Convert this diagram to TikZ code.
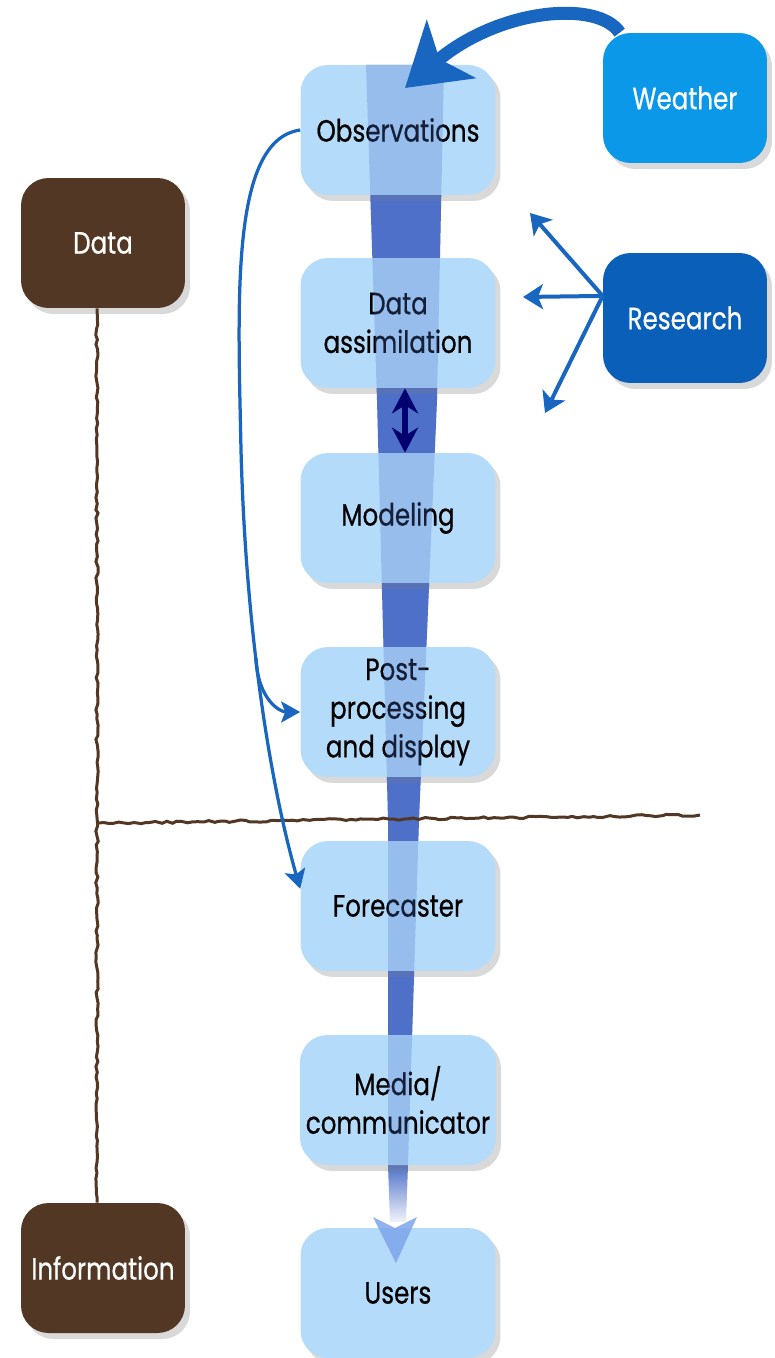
\documentclass[tikz,border=0pt]{standalone}
\usepackage{fontspec}
\setmainfont{Poppins}[FakeStretch=0.8, FakeBold=0.6]
\usetikzlibrary{arrows.meta,shadows,decorations.pathmorphing}

\definecolor{boxblue}{RGB}{180,220,250}
\definecolor{stripeblue}{RGB}{78,112,200}
\definecolor{weatherblue}{RGB}{12,152,232}
\definecolor{researchblue}{RGB}{10,95,185}
\definecolor{earth}{RGB}{82,56,36}
\definecolor{arrowblue}{RGB}{25,102,192}
\definecolor{navyarrow}{RGB}{0,0,112}
\definecolor{usershead}{RGB}{125,165,235}

\tikzset{
  stage/.style={rounded corners=0.55cm, fill=boxblue, minimum width=3.9cm,
    minimum height=2.6cm, align=center, font=\fontsize{17.5}{22}\selectfont,
    drop shadow={opacity=0.3, shadow xshift=0.1cm, shadow yshift=-0.12cm}},
  side/.style={stage, minimum width=3.28cm, text=white},
  bigarrow/.style={draw=arrowblue, line width=0.26cm,
    -{Stealth[length=1.2cm, width=1.5cm, inset=0.3cm]}},
  flow/.style={draw=arrowblue, line width=0.065cm,
    -{Stealth[length=0.38cm, width=0.42cm, inset=0.08cm]}},
  rayarrow/.style={draw=arrowblue, line width=0.08cm,
    -{Stealth[length=0.4cm, width=0.5cm, inset=0.1cm]}},
  dblarrow/.style={draw=navyarrow, line width=0.12cm,
    {Stealth[length=0.5cm, width=0.52cm]}-{Stealth[length=0.5cm, width=0.52cm]}},
  axisline/.style={draw=earth, line width=0.06cm, decorate,
    decoration={random steps, segment length=3pt, amplitude=0.7pt}}
}

\begin{document}
\begin{tikzpicture}[x=0.02cm,y=-0.02cm]
\useasboundingbox (0,0) rectangle (774,1358);
%полоса
\fill[stripeblue] (366,65) -- (444,65) -- (437,400) -- (419,820) -- (408,1165)
  -- (388,1165) -- (388,820) -- (377,400) -- cycle;
\shade[top color=stripeblue, bottom color=stripeblue!8]
  (388,1165) -- (408,1165) -- (406,1222) -- (390,1222) -- cycle;

%блоки
\node[stage] (obs) at (398,130) {Observations};
\node[stage] (assim) at (398,323) {Data\\assimilation};
\node[stage] (model) at (398,518) {Modeling};
\node[stage] (post) at (398,712) {Post-\\processing\\and display};
\node[stage] (fore) at (398,906) {Forecaster};
\node[stage] (media) at (398,1100) {Media/\\communicator};
\node[stage] (users) at (398,1293) {Users};
\node[side, fill=weatherblue] (weather) at (685,98) {Weather};
\node[side, fill=researchblue] (research) at (685,318) {Research};
\node[side, fill=earth] (data) at (103,243) {Data};
\node[side, fill=earth] (info) at (103,1268) {Information};

%полоса сверху
\fill[stripeblue, fill opacity=0.28] (366,65) -- (444,65) -- (437,400) -- (419,820)
  -- (408,1165) -- (388,1165) -- (388,820) -- (377,400) -- cycle;
\fill[usershead, fill opacity=0.85] (373,1217) -- (395,1228) -- (417,1217) -- (396,1263) -- cycle;

%оси
\coordinate (hstart) at (98,823);
\coordinate (hend) at (700,815);
\draw[axisline] ([xshift=-0.12cm]data.south) -- ([xshift=-0.12cm]info.north);
\draw[axisline] (hstart) -- (hend);

%стрелки
\coordinate (obsin) at (405,88);
\draw[bigarrow] (weather.135) .. controls (598,0) and (500,8) .. (obsin);
\draw[flow] (obs.west) .. controls (230,140) and (238,300) .. (241,450)
  .. controls (246,640) and (272,790) .. coordinate[pos=0.4] (split) (fore.170);
\draw[flow] (split) .. controls (258,700) and (280,712) .. (post.west);
\coordinate (rup) at (530,213);
\coordinate (rleft) at (523,297);
\coordinate (rdown) at (545,413);
\draw[rayarrow] (research.165) -- (rup);
\draw[rayarrow] (research.165) -- (rleft);
\draw[rayarrow] (research.165) -- (rdown);
\draw[dblarrow] ([xshift=0.14cm]assim.south) -- ([xshift=0.14cm]model.north);
\end{tikzpicture}
\end{document}
